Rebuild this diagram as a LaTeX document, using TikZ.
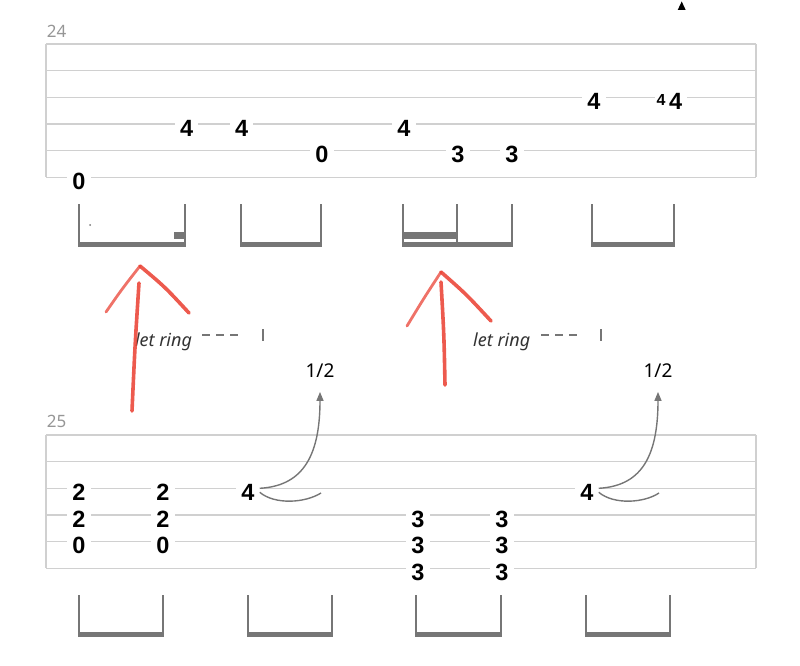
\documentclass[tikz,border=0pt]{standalone}
\usepackage{fontspec}
\setmainfont{Noto Sans}
\newfontfamily\fretfont{Liberation Sans}
\usepackage{tikz}
\usetikzlibrary{arrows.meta,positioning}
\usepackage{xcolor}
\definecolor{staffgray}{RGB}{208,208,208}
\definecolor{beamgray}{RGB}{118,118,118}
\definecolor{numgray}{RGB}{150,150,150}
\definecolor{penred}{RGB}{234,67,53}
\tikzstyle{staffline} = [staffgray, line width=1.6pt]
\tikzstyle{fretnum} = [fill=white, inner xsep=5pt, inner ysep=1pt, yshift=-4pt, font=\fretfont\fontsize{23.5}{23.5}\selectfont\bfseries]
\tikzstyle{gracenum} = [fill=white, inner xsep=2pt, inner ysep=1pt, yshift=-3pt, font=\fretfont\fontsize{16}{16}\selectfont\bfseries]
\tikzstyle{barnum} = [text=numgray, inner sep=0pt, font=\fontsize{17}{17}\selectfont]
\tikzstyle{stemline} = [beamgray, line width=2.2pt]
\tikzstyle{bendline} = [beamgray, line width=1.4pt]
\tikzstyle{bendlabel} = [inner sep=0pt, anchor=base, font=\fontsize{19}{19}\selectfont]
\tikzstyle{letring} = [inner sep=0pt, anchor=base, text=black!80, font=\fontsize{18}{18}\selectfont\itshape]
\tikzstyle{redpen} = [penred, opacity=0.88, line width=3.6pt, line cap=round, line join=round]

\begin{document}
\begin{tikzpicture}[x=1pt, y=-1pt]
\useasboundingbox (0,0) rectangle (800,666);

% Staff lines
\foreach \s in {0,...,5} {
    \draw[staffline] (46,44+26.66*\s) -- (756,44+26.66*\s);
    \draw[staffline] (46,435+26.66*\s) -- (756,435+26.66*\s);
}
\foreach \yy in {44,435} {
    \draw[staffline] (46,\yy) -- (46,\yy+133.3);
    \draw[staffline] (756,\yy) -- (756,\yy+133.3);
}

% Bar numbers
\node[barnum] (bar24) at (56.5,31) {24};
\node[barnum] (bar25) at (56.5,421) {25};

% Cut-off bend tip from the system above
\fill (681.7,1.5) -- (677.7,10) -- (685.7,10) -- cycle;

% Top system notes
\foreach \x/\y/\f [count=\i] in {79/177.3/0, 186.7/124/4, 241.7/124/4, 322/150.7/0, 404/124/4, 458/150.7/3, 512/150.7/3, 594/97.3/4, 675.7/97.3/4} {
    \node[fretnum] (top\i) at (\x,\y) {\f};
}
\node[gracenum] (grace9) at (661,97.3) {4};

% Bottom system notes
\foreach \x in {79,163} {
    \node[fretnum] (low\x a) at (\x,488.3) {2};
    \node[fretnum] (low\x b) at (\x,515) {2};
    \node[fretnum] (low\x c) at (\x,541.7) {0};
}
\foreach \x in {418,502} {
    \node[fretnum] (low\x a) at (\x,515) {3};
    \node[fretnum] (low\x b) at (\x,541.7) {3};
    \node[fretnum] (low\x c) at (\x,568.3) {3};
}
\node[fretnum] (bendA) at (248,488.3) {4};
\node[fretnum] (bendB) at (587,488.3) {4};

% Stems and beams
\foreach \a/\b in {79/185,241/321,403/512,592/674} {
    \draw[stemline] (\a,204) -- (\a,247);
    \draw[stemline] (\b,204) -- (\b,247);
    \fill[beamgray] (\a-1.1,241.5) rectangle (\b+1.1,247.3);
}
\draw[stemline] (457,204) -- (457,242);
\fill[beamgray] (403-1.1,232) rectangle (457+1.1,238.5);
\fill[beamgray] (174,232) rectangle (186.1,238.5);
\fill[beamgray] (90,225) circle (1pt);
\foreach \a/\b in {79/163,248/332,416/501,586/670} {
    \draw[stemline] (\a,595) -- (\a,637.3);
    \draw[stemline] (\b,595) -- (\b,637.3);
    \fill[beamgray] (\a-1.1,631.7) rectangle (\b+1.1,637.3);
}

% Let ring
\node[letring] (ringA) at (163.5,346.7) {let ring};
\node[letring] (ringB) at (501.7,346.7) {let ring};
\coordinate (ringAend) at (263,335);
\coordinate (ringBend) at (601,335);
\draw[bendline, dash pattern=on 8pt off 6pt] ([shift={(10pt,11.7pt)}]ringA.base east) -- ([xshift=-25pt]ringAend);
\draw[bendline, dash pattern=on 8pt off 6pt] ([shift={(11pt,11.7pt)}]ringB.base east) -- ([xshift=-23pt]ringBend);
\draw[bendline] (ringAend) ++(0,-6) -- ++(0,12);
\draw[bendline] (ringBend) ++(0,-6) -- ++(0,12);

% Bends
\node[bendlabel] (halfA) at (320,377.7) {1/2};
\node[bendlabel] (halfB) at (658,377.7) {1/2};
\coordinate (relA) at (321,493);
\coordinate (relB) at (659,493);
\draw[bendline, -{Triangle[length=9pt,width=7pt]}, shorten >=14pt] ([yshift=4pt]bendA.east) .. controls (300,486) and (320,460) .. (halfA.south);
\draw[bendline, -{Triangle[length=9pt,width=7pt]}, shorten >=14pt] ([yshift=4pt]bendB.east) .. controls (639,486) and (658,460) .. (halfB.south);
\draw[bendline] (bendA.east) .. controls (275,505) and (305,503) .. (relA);
\draw[bendline] (bendB.east) .. controls (614,505) and (644,503) .. (relB);

% Red pen arrows
\draw[redpen, line width=2.8pt, opacity=0.75] (106,312) .. controls (122,289) .. (140,266);
\draw[redpen] (140,266) .. controls (165,287) .. (189,313);
\draw[redpen] (139,283) .. controls (135,345) .. (132,411);
\draw[redpen, line width=2.8pt, opacity=0.75] (407,326) .. controls (424,298) .. (441,272);
\draw[redpen] (441,272) .. controls (466,294) .. (491,321);
\draw[redpen] (441,282) .. controls (444,335) .. (445,385);
\end{tikzpicture}
\end{document}
